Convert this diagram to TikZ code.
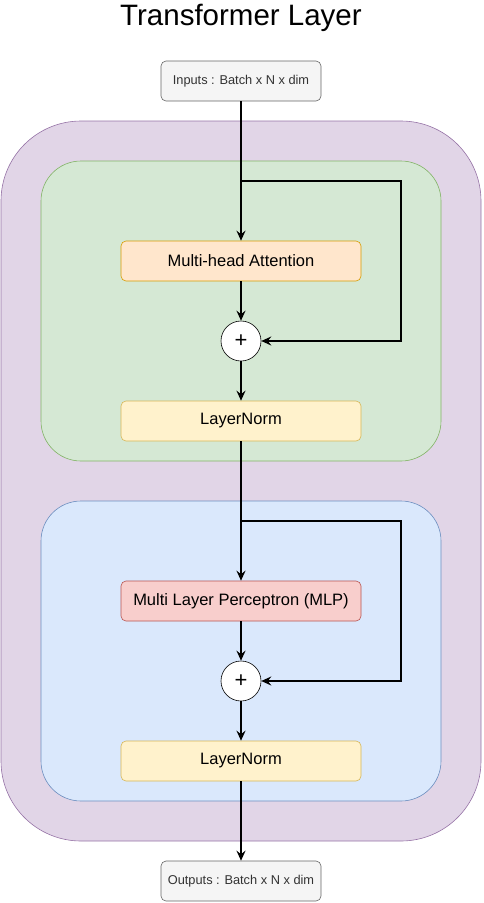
\documentclass[tikz,border=0pt]{standalone}
\usepackage{fontspec}
\setmainfont{Liberation Sans}
\usetikzlibrary{arrows.meta}
\definecolor{outerfill}{HTML}{E1D5E7}
\definecolor{outerdraw}{HTML}{9673A6}
\definecolor{greenfill}{HTML}{D5E8D4}
\definecolor{greendraw}{HTML}{82B366}
\definecolor{bluefill}{HTML}{DAE8FC}
\definecolor{bluedraw}{HTML}{6C8EBF}
\definecolor{orangefill}{HTML}{FFE6CC}
\definecolor{orangedraw}{HTML}{D79B00}
\definecolor{yellowfill}{HTML}{FFF2CC}
\definecolor{yellowdraw}{HTML}{D6B656}
\definecolor{redfill}{HTML}{F8CECC}
\definecolor{reddraw}{HTML}{B85450}
\definecolor{greyfill}{HTML}{F5F5F5}
\definecolor{greydraw}{HTML}{666666}
\definecolor{textgrey}{HTML}{333333}
\tikzset{
  blockbox/.style={draw, rounded corners=5pt, minimum width=240pt, minimum height=40pt, inner sep=0pt, font=\fontsize{16.5}{19}\selectfont, line width=0.6pt},
  iobox/.style={draw=greydraw, fill=greyfill, rounded corners=5pt, minimum width=160pt, minimum height=40pt, inner sep=0pt, text=textgrey, font=\fontsize{12.8}{15}\selectfont, line width=0.6pt},
  sumnode/.style={draw, fill=white, circle, minimum size=40pt, inner sep=0pt, font=\fontsize{22}{24}\selectfont, line width=0.6pt},
  flow/.style={line width=1.9pt, -{Stealth[length=10pt,width=9pt,inset=3.5pt]}},
}
\begin{document}
\begin{tikzpicture}[x=1pt,y=-1pt]
\useasboundingbox (0,0) rectangle (483,903);
% containers
\draw[fill=outerfill, draw=outerdraw, rounded corners=80pt, line width=0.6pt] (1,121) rectangle (481,841);
\draw[fill=greenfill, draw=greendraw, rounded corners=40pt, line width=0.6pt] (41,161) rectangle (441,461);
\draw[fill=bluefill, draw=bluedraw, rounded corners=40pt, line width=0.6pt] (41,501) rectangle (441,801);
% title
\node[font=\fontsize{29.5}{33}\selectfont] (title) at (241,18) {Transformer Layer};
% nodes
\node[iobox] (in) at (241,81) {Inputs : Batch x N x dim};
\node[blockbox, fill=orangefill, draw=orangedraw] (mha) at (241,261) {Multi-head Attention};
\node[sumnode] (add1) at (241,341) {+};
\node[blockbox, fill=yellowfill, draw=yellowdraw] (ln1) at (241,421) {LayerNorm};
\node[blockbox, fill=redfill, draw=reddraw] (mlp) at (241,601) {Multi Layer Perceptron (MLP)};
\node[sumnode] (add2) at (241,681) {+};
\node[blockbox, fill=yellowfill, draw=yellowdraw] (ln2) at (241,761) {LayerNorm};
\node[iobox] (out) at (241,881) {Outputs : Batch x N x dim};
\coordinate (b1) at (241,181);
\coordinate (b2) at (241,521);
% connectors
\draw[flow] (in.south) -- (mha.north);
\draw[flow] (b1) -- (401,181) -- (401,341) -- (add1.east);
\draw[flow] (mha.south) -- (add1.north);
\draw[flow] (add1.south) -- (ln1.north);
\draw[flow] (ln1.south) -- (mlp.north);
\draw[flow] (b2) -- (401,521) -- (401,681) -- (add2.east);
\draw[flow] (mlp.south) -- (add2.north);
\draw[flow] (add2.south) -- (ln2.north);
\draw[flow] (ln2.south) -- (out.north);
\end{tikzpicture}
\end{document}
